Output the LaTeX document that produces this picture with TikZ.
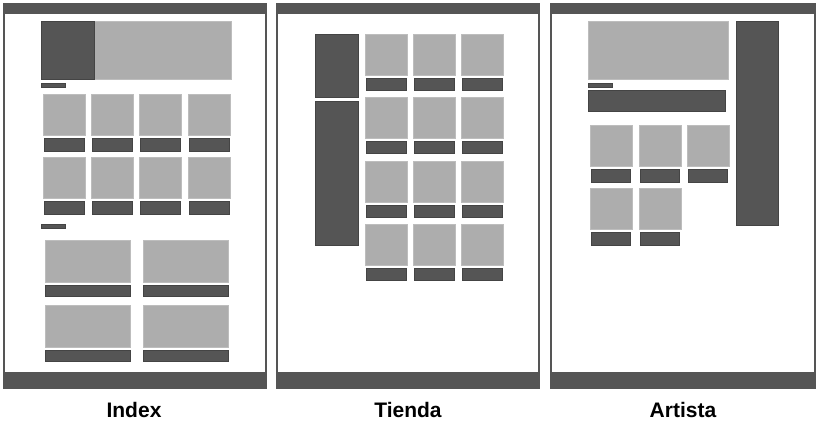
\documentclass[tikz,border=0pt]{standalone}
\usepackage{fontspec}
\setmainfont{Liberation Sans}
\definecolor{darkbox}{HTML}{555555}
\definecolor{lightbox}{HTML}{ADADAD}
\tikzset{
	lightfill/.style={fill=lightbox, draw=lightbox!80!white, line width=0.6pt},
	darkfill/.style={fill=darkbox, draw=darkbox!80!black, line width=0.6pt},
	pagename/.style={font=\fontsize{21}{21}\selectfont\bfseries}
}
\begin{document}
\begin{tikzpicture}[x=1pt, y=-1pt]
	\useasboundingbox (0,0) rectangle (820,432);
	% Rahmen der drei Seiten
	\foreach \x/\w in {4/262, 277/262, 551/264}{
		\draw[darkbox, line width=1.5pt, fill=white] (\x,4) rectangle (\x+\w,388);
		\fill[darkbox] (\x,4) rectangle (\x+\w,14);
		\fill[darkbox] (\x,372) rectangle (\x+\w,388);
	}

	% Index
	\filldraw[lightfill] (41,21) rectangle (231,79);
	\filldraw[darkfill] (41,21) rectangle (94,79);
	\filldraw[darkfill] (41,83) rectangle (65,87);
	\foreach \y in {94,157}
		\foreach \x in {43,91,139,188}{
			\filldraw[lightfill] (\x,\y) rectangle (\x+42,\y+41);
			\filldraw[darkfill] (\x+1,\y+44) rectangle (\x+41,\y+57);
		}
	\filldraw[darkfill] (41,224) rectangle (65,228);
	\foreach \y in {240,305}
		\foreach \x in {45,143}{
			\filldraw[lightfill] (\x,\y) rectangle (\x+85,\y+42);
			\filldraw[darkfill] (\x,\y+45) rectangle (\x+85,\y+56);
		}
	\node[pagename] (index) at (134,410) {Index};

	% Tienda
	\filldraw[darkfill] (315,34) rectangle (358,97);
	\filldraw[darkfill] (315,101) rectangle (358,245);
	\foreach \y in {34,97,161,224}
		\foreach \x in {365,413,461}{
			\filldraw[lightfill] (\x,\y) rectangle (\x+42,\y+41);
			\filldraw[darkfill] (\x+1,\y+44) rectangle (\x+41,\y+56);
		}
	\node[pagename] (tienda) at (408,410) {Tienda};

	% Artista
	\filldraw[lightfill] (588,21) rectangle (728,79);
	\filldraw[darkfill] (588,83) rectangle (612,87);
	\filldraw[darkfill] (588,90) rectangle (725,111);
	\filldraw[darkfill] (736,21) rectangle (778,225);
	\foreach \x/\y in {590/125, 639/125, 687/125, 590/188, 639/188}{
		\filldraw[lightfill] (\x,\y) rectangle (\x+42,\y+41);
		\filldraw[darkfill] (\x+1,\y+44) rectangle (\x+40,\y+57);
	}
	\node[pagename] (artista) at (683,410) {Artista};
\end{tikzpicture}
\end{document}
